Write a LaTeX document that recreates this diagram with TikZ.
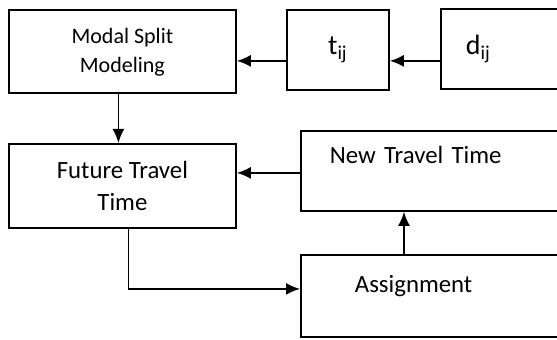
\documentclass[tikz,border=0pt]{standalone}
\usepackage{fontspec}
\setmainfont{Carlito}
\usetikzlibrary{arrows.meta}

\begin{document}
\begin{tikzpicture}[x=0.5pt,y=-0.5pt,
    box/.style={draw,line width=0.9pt,anchor=north west,inner sep=0pt,
      font=\fontsize{12.4}{16}\selectfont},
    arr/.style={-{Latex[length=7pt,width=6pt]},line width=0.9pt}]
  \useasboundingbox (0,0) rectangle (557,340);

  % top row
  \node[box,minimum width=113.5pt,minimum height=41.5pt,align=center,
        font=\fontsize{11}{14.5}\selectfont] (modal) at (8,9.5) {Modal Split\\Modeling};
  \node[box,minimum width=51pt,minimum height=40pt,
        font=\fontsize{14}{17}\selectfont] (tij) at (286,9) {t\textsubscript{ij}};
  \node[box,minimum height=40pt,text width=45pt,inner xsep=12.5pt,align=left,
        font=\fontsize{14}{17}\selectfont] (dij) at (440,8) {d\textsubscript{ij}};

  % lower part
  \node[box,minimum width=113.5pt,minimum height=42pt,align=center] (future) at (8,143)
        {Future Travel\\Time};
  \node[box,text width=106pt,inner xsep=14.5pt,text height=16.5pt,text depth=23.5pt,
        align=left] (newtime) at (300,130) {New Travel Time};
  \node[box,text width=81pt,inner xsep=27pt,text height=19pt,text depth=22pt,
        align=left] (assign) at (300,254) {Assignment};

  \draw[arr] ([yshift=-6pt]dij.west) -- ([yshift=-6pt]dij.west -| tij.east);
  \draw[arr] ([yshift=-5.5pt]tij.west) -- ([yshift=-5.5pt]tij.west -| modal.east);
  \draw[arr] ([xshift=-2pt]modal.south) -- ([xshift=-2pt]modal.south |- future.north);
  \draw[arr] ([yshift=-1pt]newtime.west) -- ([yshift=-1pt]newtime.west -| future.east);
  \draw[arr] ([xshift=52pt]assign.north west) -- ([xshift=52pt]assign.north west |- newtime.south);
  \draw[arr] ([xshift=3pt]future.south) |- ([yshift=3.5pt]assign.west);
\end{tikzpicture}
\end{document}
